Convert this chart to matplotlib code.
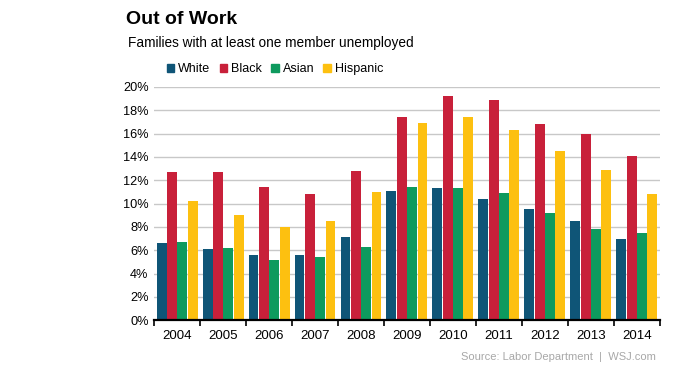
import numpy as np
import matplotlib.pyplot as plt
from matplotlib.patches import Patch

plt.rcParams['font.family'] = ['Liberation Sans', 'DejaVu Sans']

years = ['2004', '2005', '2006', '2007', '2008', '2009', '2010', '2011', '2012', '2013', '2014']
white = [6.6, 6.1, 5.6, 5.6, 7.1, 11.1, 11.3, 10.4, 9.5, 8.5, 7.0]
black = [12.7, 12.7, 11.4, 10.8, 12.8, 17.4, 19.2, 18.9, 16.8, 16.0, 14.1]
asian = [6.7, 6.2, 5.2, 5.4, 6.3, 11.4, 11.3, 10.9, 9.2, 7.8, 7.5]
hispanic = [10.2, 9.0, 8.0, 8.5, 11.0, 16.9, 17.4, 16.3, 14.5, 12.9, 10.8]

series = [('White', white, '#0f5577'), ('Black', black, '#c8203a'),
          ('Asian', asian, '#0e9a5e'), ('Hispanic', hispanic, '#fdc010')]

fig = plt.figure(figsize=(6.76, 3.90), dpi=100)
ax = fig.add_axes([0.228, 0.179, 0.748, 0.598])

x = np.arange(len(years))
w = 0.215
step = 0.225
for i, (name, vals, col) in enumerate(series):
    ax.bar(x + (i - 1.5) * step, vals, width=w, color=col, zorder=3, linewidth=0)

ax.set_xlim(-0.5, len(years) - 0.5)
ax.set_ylim(0, 20)
ax.set_yticks(range(0, 21, 2))
ax.set_yticklabels([f'{v}%' for v in range(0, 21, 2)], fontsize=9.2)
ax.yaxis.grid(True, color='#c8c8c8', linewidth=1, zorder=0)
ax.tick_params(axis='y', length=0, pad=4)

# ticks at group boundaries, labels at centres
ax.set_xticks(np.arange(-0.5, len(years), 1))
ax.set_xticklabels([])
ax.set_xticks(x, minor=True)
ax.set_xticklabels(years, minor=True, fontsize=9.5)
ax.tick_params(axis='x', which='major', length=4, width=1.2, direction='out', color='black')
ax.tick_params(axis='x', which='minor', length=0, pad=7)

for s in ['top', 'right', 'left']:
    ax.spines[s].set_visible(False)
ax.spines['bottom'].set_linewidth(1.6)
ax.spines['bottom'].set_zorder(4)

handles = [Patch(color=c, label=n) for n, _, c in series]
fig.legend(handles=handles, loc='center left', bbox_to_anchor=(0.247, 0.822), ncol=4,
           frameon=False, fontsize=9, handlelength=0.6, handleheight=0.6,
           handletextpad=0.3, columnspacing=0.75, borderpad=0, borderaxespad=0)

fig.text(126 / 676, 1 - 20 / 390, 'Out of Work', fontsize=14, fontweight='bold', va='center', ha='left')
fig.text(128 / 676, 1 - 43 / 390, 'Families with at least one member unemployed', fontsize=9.8,
         va='center', ha='left')
fig.text(656 / 676, 1 - 357 / 390, 'Source: Labor Department  |  WSJ.com', fontsize=8,
         color='#a8a8a8', va='center', ha='right')

fig.savefig('out.png', dpi=100)
